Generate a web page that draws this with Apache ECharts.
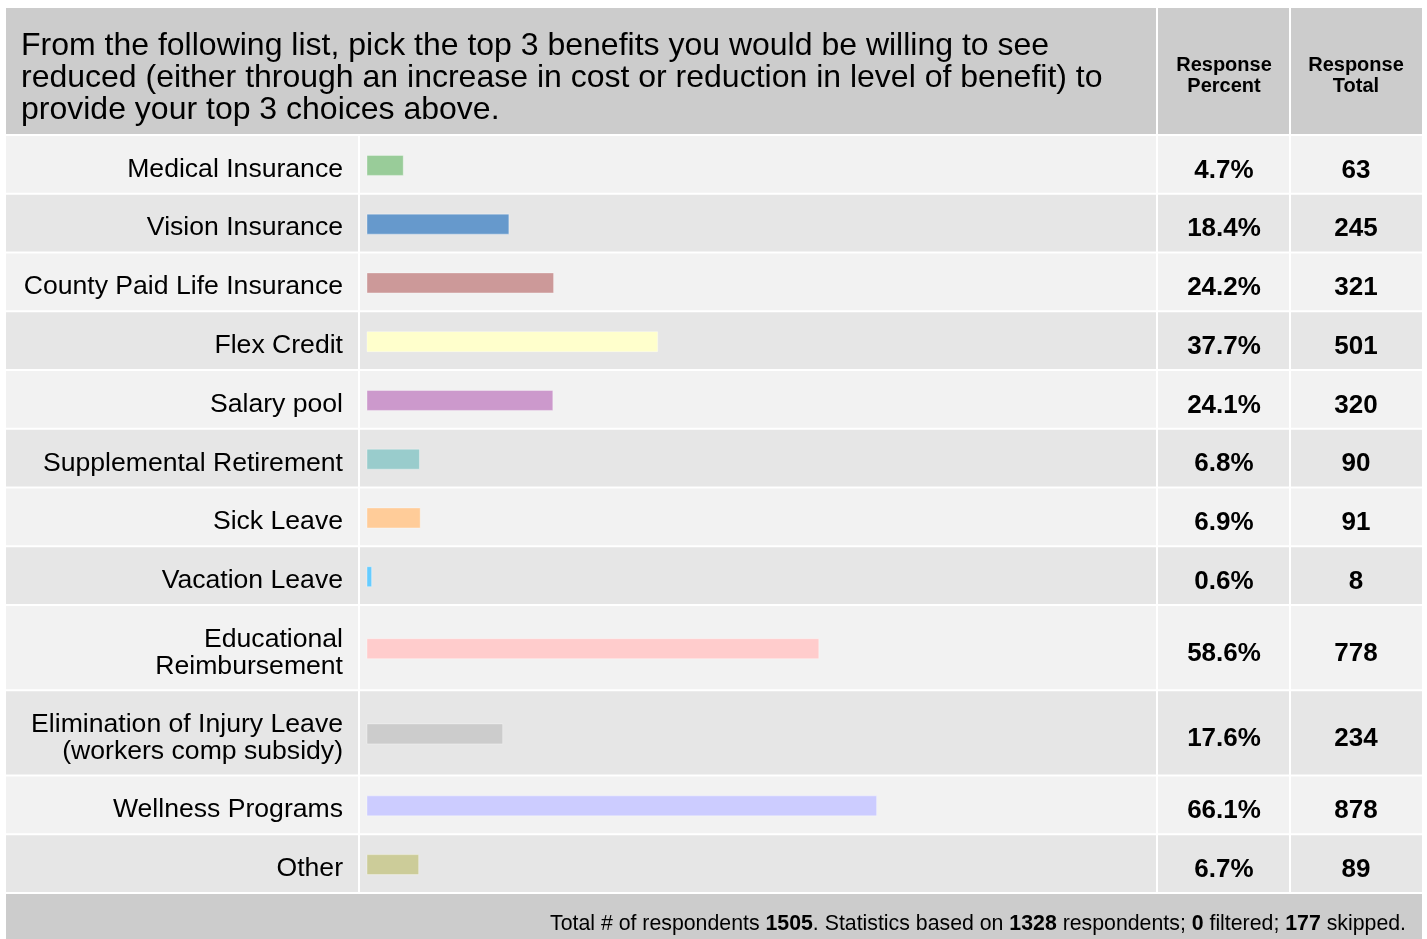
<!DOCTYPE html>
<html>
<head>
<meta charset="utf-8">
<script src="https://cdn.jsdelivr.net/npm/echarts/dist/echarts.min.js"></script>
<style>
html,body{margin:0;padding:0;background:#ffffff;}
#chart{width:1427px;height:939px;}
</style>
</head>
<body>
<div id="chart"></div>
<script>
// ---- data ----
const categories = [
  'Medical Insurance',
  'Vision Insurance',
  'County Paid Life Insurance',
  'Flex Credit',
  'Salary pool',
  'Supplemental Retirement',
  'Sick Leave',
  'Vacation Leave',
  'Educational\nReimbursement',
  'Elimination of Injury Leave\n(workers comp subsidy)',
  'Wellness Programs',
  'Other'
];
const responsePercent = [4.7, 18.4, 24.2, 37.7, 24.1, 6.8, 6.9, 0.6, 58.6, 17.6, 66.1, 6.7];
const responseTotal = [63, 245, 321, 501, 320, 90, 91, 8, 778, 234, 878, 89];
const questionText = 'From the following list, pick the top 3 benefits you would be willing to see\nreduced (either through an increase in cost or reduction in level of benefit) to\nprovide your top 3 choices above.';
const totalRespondents = 1505;
const basedOn = 1328;
const filtered = 0;
const skipped = 177;

// ---- styles ----
const barColors = ['#99cc99','#6699cc','#cc9999','#ffffcc','#cc99cc','#99cccc','#ffcc99','#66ccff','#ffcccc','#cccccc','#ccccff','#cccc99'];
const FONT = '"Liberation Sans", Arial, Helvetica, sans-serif';

// row heights in units, derived from number of label lines
const rowUnits = categories.map(c => 1 + 0.45 * (c.split('\n').length - 1));
const rowData = [];
let acc = 0;
categories.forEach((c, i) => {
  rowData.push([responsePercent[i], acc, acc + rowUnits[i], i]);
  acc += rowUnits[i];
});
const totalUnits = acc;

const chart = echarts.init(document.getElementById('chart'), null, {renderer: 'canvas'});

function renderItem(params, api) {
  const i = api.value(3);
  const start = api.value(1), end = api.value(2);
  const mid = (start + end) / 2;
  const yTop = api.coord([0, start])[1];
  const yBot = api.coord([0, end])[1] - 2;
  const yMid = (yTop + yBot) / 2;
  const bg = i % 2 === 0 ? '#f2f2f2' : '#e6e6e6';
  const cells = [[6, 358], [360, 1156], [1158, 1289], [1291, 1422]];
  const children = cells.map(c => ({
    type: 'rect', shape: {x: c[0], y: yTop, width: c[1] - c[0], height: yBot - yTop},
    style: {fill: bg}
  }));
  const p0 = api.coord([0, mid]);
  const p1 = api.coord([api.value(0), mid]);
  children.push({
    type: 'rect', shape: {x: p0[0], y: yMid - 9, width: p1[0] - p0[0], height: 20},
    style: {fill: barColors[i], stroke: 'rgba(255,255,255,0.35)', lineWidth: 1}
  });
  children.push({
    type: 'text', style: {text: categories[i], x: 343, y: yMid + 5, align: 'right', verticalAlign: 'middle',
      fontSize: 26.6, fontFamily: FONT, fill: '#000', lineHeight: 27}
  });
  children.push({
    type: 'text', style: {text: responsePercent[i].toFixed(1) + '%', x: 1224, y: yMid + 6, align: 'center', verticalAlign: 'middle',
      fontSize: 26, fontWeight: 'bold', fontFamily: FONT, fill: '#000'}
  });
  children.push({
    type: 'text', style: {text: String(responseTotal[i]), x: 1356, y: yMid + 6, align: 'center', verticalAlign: 'middle',
      fontSize: 26, fontWeight: 'bold', fontFamily: FONT, fill: '#000'}
  });
  return {type: 'group', children: children};
}

const option = {
  animation: false,
  backgroundColor: '#ffffff',
  grid: {left: 367, width: 771, top: 136, bottom: 45, containLabel: false},
  xAxis: {type: 'value', min: 0, max: 100, show: false},
  yAxis: {type: 'value', min: 0, max: totalUnits, inverse: true, show: false},
  series: [{
    type: 'custom',
    renderItem: renderItem,
    data: rowData,
    encode: {x: 0, y: 1},
    clip: false,
    silent: true
  }],
  graphic: [
    {type: 'rect', shape: {x: 6, y: 8, width: 1150, height: 126}, style: {fill: '#cccccc'}},
    {type: 'rect', shape: {x: 1158, y: 8, width: 131, height: 126}, style: {fill: '#cccccc'}},
    {type: 'rect', shape: {x: 1291, y: 8, width: 131, height: 126}, style: {fill: '#cccccc'}},
    {type: 'text', style: {text: questionText, x: 21, y: 30, fontSize: 32, lineHeight: 32, fontFamily: FONT, fill: '#000'}},
    {type: 'text', style: {text: 'Response\nPercent', x: 1224, y: 76, align: 'center', verticalAlign: 'middle',
      fontSize: 20, fontWeight: 'bold', lineHeight: 21, fontFamily: FONT, fill: '#000'}},
    {type: 'text', style: {text: 'Response\nTotal', x: 1356, y: 76, align: 'center', verticalAlign: 'middle',
      fontSize: 20, fontWeight: 'bold', lineHeight: 21, fontFamily: FONT, fill: '#000'}},
    {type: 'rect', shape: {x: 6, y: 894, width: 1416, height: 45}, style: {fill: '#cccccc'}},
    {type: 'text', style: {
      text: 'Total # of respondents {b|' + totalRespondents + '}. Statistics based on {b|' + basedOn + '} respondents; {b|' + filtered + '} filtered; {b|' + skipped + '} skipped.',
      x: 1406, y: 924, align: 'right', verticalAlign: 'middle', fontSize: 21.3, fontFamily: FONT, fill: '#000',
      rich: {b: {fontWeight: 'bold', fontSize: 21.3, fontFamily: FONT, fill: '#000'}}
    }}
  ]
};
chart.setOption(option);
</script>
</body>
</html>
